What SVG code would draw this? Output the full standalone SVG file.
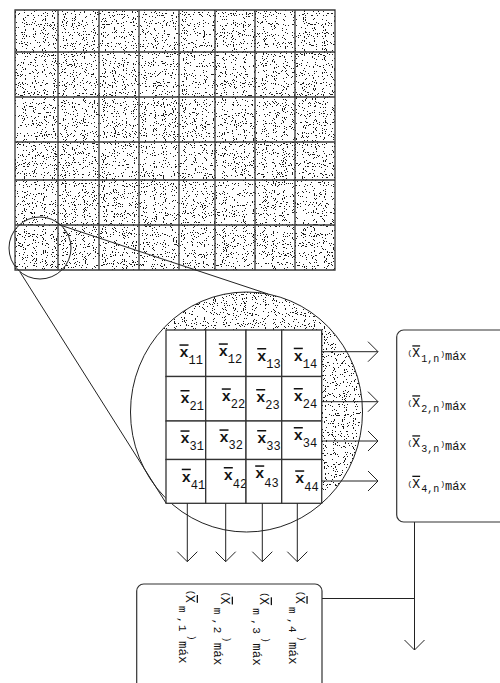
<svg xmlns="http://www.w3.org/2000/svg" width="500" height="683" viewBox="0 0 500 683">
<defs>
<style>
.ln{stroke:#3a3a3a;stroke-width:1.3;fill:none}
.thin{stroke:#222;stroke-width:1;fill:none}
.cell{fill:#fff;stroke:#333;stroke-width:1.3}
.box{fill:#fff;stroke:#333;stroke-width:1.2}
.st{filter:url(#stip)}
text{font-family:"Liberation Mono","Courier New",monospace;fill:#111}
.xb{font-weight:bold;font-size:15px;text-decoration:overline}
.sb{font-size:12px}
.ov{text-decoration:overline}
</style>
<filter id="stip" x="0" y="0" width="1" height="1" color-interpolation-filters="sRGB">
<feTurbulence type="fractalNoise" baseFrequency="0.9" numOctaves="1" seed="4" result="n"/>
<feColorMatrix in="n" type="matrix" values="0 0 0 0 0.1  0 0 0 0 0.1  0 0 0 0 0.1  1 0 0 0 0" result="a"/>
<feComponentTransfer in="a" result="d"><feFuncA type="discrete" tableValues="0 0 0 0 0 0 0 0 0 0 0 0 0 0 0 0 1 1 1 1 1 1 1 1 1"/></feComponentTransfer>
<feComposite in="d" in2="SourceAlpha" operator="in"/>
</filter>
<marker id="ah" markerUnits="userSpaceOnUse" markerWidth="12" markerHeight="22" refX="10" refY="10" orient="auto" overflow="visible">
<path d="M0,0 L10,10 L0,20" fill="none" stroke="#222" stroke-width="1"/>
</marker>
<clipPath id="lensclip"><ellipse cx="246.5" cy="412" rx="116" ry="120"/></clipPath>
</defs>
<rect width="500" height="683" fill="#fff"/>

<g id="image-grid">
<rect x="15" y="10" width="320" height="260" fill="#000" class="st"/>
<path class="ln" d="M15,10H335V270H15Z M58,10V270 M99,10V270 M139,10V270 M179,10V270 M215,10V270 M255,10V270 M295,10V270 M15,52H335 M15,97H335 M15,142H335 M15,180H335 M15,225H335"/>
</g>

<g id="zoom-area">
<circle cx="40" cy="248" r="31" class="thin"/>
</g>

<g id="lens">
<g clip-path="url(#lensclip)">
<path class="st" fill="#000" d="M120,280H380V330H120Z M321.7,330H380V490H321.7Z"/>
</g>
<ellipse cx="246.5" cy="412" rx="116" ry="120" class="thin"/>
</g>

<g id="cell-11"><rect class="cell" x="166" y="330" width="39.7" height="46.5"/><text x="179.5" y="357.3"><tspan class="xb">x</tspan><tspan class="sb" dy="7">11</tspan></text></g>
<g id="cell-12"><rect class="cell" x="205.7" y="330" width="40.3" height="46.5"/><text x="218.8" y="356.3"><tspan class="xb">x</tspan><tspan class="sb" dy="7">12</tspan></text></g>
<g id="cell-13"><rect class="cell" x="246" y="330" width="35.7" height="46.5"/><text x="257.2" y="361"><tspan class="xb">x</tspan><tspan class="sb" dy="7">13</tspan></text></g>
<g id="cell-14"><rect class="cell" x="281.7" y="330" width="40" height="46.5"/><text x="293.8" y="360.7"><tspan class="xb">x</tspan><tspan class="sb" dy="7">14</tspan></text></g>

<g id="cell-21"><rect class="cell" x="166" y="376.5" width="39.7" height="44.5"/><text x="180.5" y="403"><tspan class="xb">x</tspan><tspan class="sb" dy="7">21</tspan></text></g>
<g id="cell-22"><rect class="cell" x="205.7" y="376.5" width="40.3" height="44.5"/><text x="221.8" y="401.3"><tspan class="xb">x</tspan><tspan class="sb" dy="7">22</tspan></text></g>
<g id="cell-23"><rect class="cell" x="246" y="376.5" width="35.7" height="44.5"/><text x="256.2" y="402"><tspan class="xb">x</tspan><tspan class="sb" dy="6.5">23</tspan></text></g>
<g id="cell-24"><rect class="cell" x="281.7" y="376.5" width="40" height="44.5"/><text x="293.8" y="401"><tspan class="xb">x</tspan><tspan class="sb" dy="7">24</tspan></text></g>

<g id="cell-31"><rect class="cell" x="166" y="421" width="39.7" height="38.5"/><text x="180.5" y="443.3"><tspan class="xb">x</tspan><tspan class="sb" dy="7">31</tspan></text></g>
<g id="cell-32"><rect class="cell" x="205.7" y="421" width="40.3" height="38.5"/><text x="219.5" y="442.3"><tspan class="xb">x</tspan><tspan class="sb" dy="7">32</tspan></text></g>
<g id="cell-33"><rect class="cell" x="246" y="421" width="35.7" height="38.5"/><text x="257.2" y="443"><tspan class="xb">x</tspan><tspan class="sb" dy="7">33</tspan></text></g>
<g id="cell-34"><rect class="cell" x="281.7" y="421" width="40" height="38.5"/><text x="293.8" y="440"><tspan class="xb">x</tspan><tspan class="sb" dy="7">34</tspan></text></g>

<g id="cell-41"><rect class="cell" x="166" y="459.5" width="39.7" height="43.8"/><text x="181.8" y="481.7"><tspan class="xb">x</tspan><tspan class="sb" dy="7.3">41</tspan></text></g>
<g id="cell-42"><rect class="cell" x="205.7" y="459.5" width="40.3" height="43.8"/><text x="223.8" y="480"><tspan class="xb">x</tspan><tspan class="sb" dy="7.5">42</tspan></text></g>
<g id="cell-43"><rect class="cell" x="246" y="459.5" width="35.7" height="43.8"/><text x="255.2" y="478.3"><tspan class="xb">x</tspan><tspan class="sb" dy="9">43</tspan></text></g>
<g id="cell-44"><rect class="cell" x="281.7" y="459.5" width="40" height="43.8"/><text x="295.2" y="483.3"><tspan class="xb">x</tspan><tspan class="sb" dy="7.7">44</tspan></text></g>

<g id="connectors">
<path class="thin" d="M60,225L268,294"/>
<path class="thin" d="M20,272L166,503"/>
<path class="thin" marker-end="url(#ah)" d="M321.7,351.7H378"/>
<path class="thin" marker-end="url(#ah)" d="M321.7,401.7H378"/>
<path class="thin" marker-end="url(#ah)" d="M321.7,441H378"/>
<path class="thin" marker-end="url(#ah)" d="M321.7,481H378"/>
<path class="thin" marker-end="url(#ah)" d="M187.3,503.3V561.7"/>
<path class="thin" marker-end="url(#ah)" d="M225.7,503.3V561.7"/>
<path class="thin" marker-end="url(#ah)" d="M262.3,503.3V561.7"/>
<path class="thin" marker-end="url(#ah)" d="M297.3,503.3V561.7"/>
<path class="thin" d="M322,598.5H414.5"/>
<path class="thin" marker-end="url(#ah)" d="M414.5,522V650"/>
</g>

<g id="row-max-box">
<rect class="box" x="396.7" y="330" width="130" height="192" rx="7"/>
<text x="407.5" y="357.3"><tspan font-size="8" dy="-2">(</tspan><tspan font-size="13" dy="2" class="ov">X</tspan><tspan font-size="10" dy="4.4" dx="1">1,n</tspan><tspan font-size="8" dy="-6" dx="1">)</tspan><tspan font-size="12" dy="4">máx</tspan></text>
<text x="407.5" y="407.3"><tspan font-size="8" dy="-2">(</tspan><tspan font-size="13" dy="2" class="ov">X</tspan><tspan font-size="10" dy="4.4" dx="1">2,n</tspan><tspan font-size="8" dy="-6" dx="1">)</tspan><tspan font-size="12" dy="4">máx</tspan></text>
<text x="407.5" y="447.3"><tspan font-size="8" dy="-2">(</tspan><tspan font-size="13" dy="2" class="ov">X</tspan><tspan font-size="10" dy="4.4" dx="1">3,n</tspan><tspan font-size="8" dy="-6" dx="1">)</tspan><tspan font-size="12" dy="4">máx</tspan></text>
<text x="407.5" y="487.7"><tspan font-size="8" dy="-2">(</tspan><tspan font-size="13" dy="2" class="ov">X</tspan><tspan font-size="10" dy="4.4" dx="1">4,n</tspan><tspan font-size="8" dy="-6" dx="1">)</tspan><tspan font-size="12" dy="4">máx</tspan></text>
</g>

<g id="col-max-box">
<rect class="box" x="136.7" y="584" width="185.3" height="130" rx="7"/>
<text transform="translate(186,590) rotate(90)"><tspan x="0" y="-2" font-size="9">(</tspan><tspan x="5" y="0" font-size="13" class="ov">X</tspan><tspan x="16 27 35" y="7" font-size="11">m,1</tspan><tspan x="45" y="-3" font-size="9">)</tspan><tspan x="51" y="6.7" font-size="12.5">máx</tspan></text>
<text transform="translate(221,591.7) rotate(90)"><tspan x="0" y="-2" font-size="9">(</tspan><tspan x="5" y="0" font-size="13" class="ov">X</tspan><tspan x="16 27 35" y="7" font-size="11">m,2</tspan><tspan x="45" y="-3" font-size="9">)</tspan><tspan x="51" y="6.7" font-size="12.5">máx</tspan></text>
<text transform="translate(260,592.3) rotate(90)"><tspan x="0" y="-2" font-size="9">(</tspan><tspan x="5" y="0" font-size="13" class="ov">X</tspan><tspan x="16 27 35" y="7" font-size="11">m,3</tspan><tspan x="45" y="-3" font-size="9">)</tspan><tspan x="51" y="6.7" font-size="12.5">máx</tspan></text>
<text transform="translate(295.7,591) rotate(90)"><tspan x="0" y="-2" font-size="9">(</tspan><tspan x="5" y="0" font-size="13" class="ov">X</tspan><tspan x="16 27 35" y="7" font-size="11">m,4</tspan><tspan x="45" y="-3" font-size="9">)</tspan><tspan x="51" y="6.7" font-size="12.5">máx</tspan></text>
</g>
</svg>
